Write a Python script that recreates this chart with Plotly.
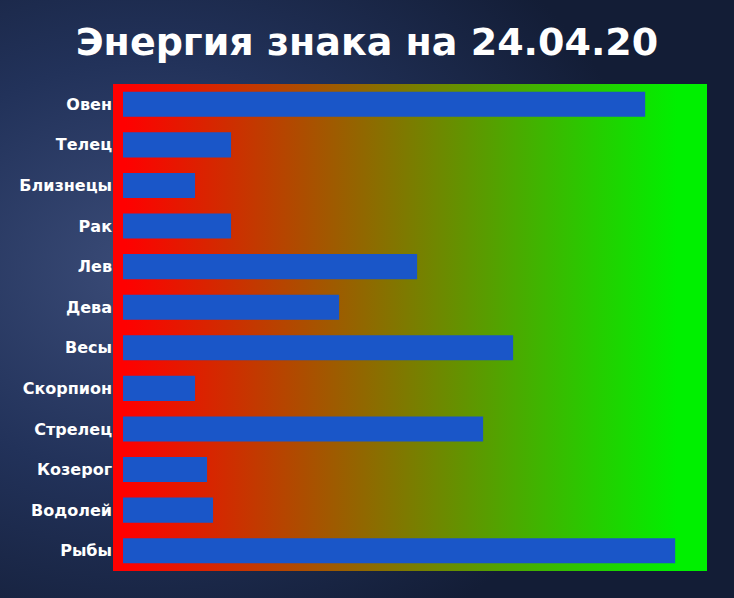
import base64
import plotly.graph_objects as go

# знаки зодиака сверху вниз
signs = ['Овен', 'Телец', 'Близнецы', 'Рак', 'Лев', 'Дева',
         'Весы', 'Скорпион', 'Стрелец', 'Козерог', 'Водолей', 'Рыбы']
energy = [87, 18, 12, 18, 49, 36, 65, 12, 60, 14, 15, 92]

title_text = 'Энергия знака на 24.04.20'


def svg_uri(svg):
    return 'data:image/svg+xml;base64,' + base64.b64encode(svg.encode('utf-8')).decode('ascii')


# фон "звёздное небо" (упрощённо)
sky_svg = (
    '<svg xmlns="http://www.w3.org/2000/svg" width="734" height="598">'
    '<defs><radialGradient id="g" cx="0.2" cy="0.45" r="0.7">'
    '<stop offset="0" stop-color="#3b4c78"/>'
    '<stop offset="0.5" stop-color="#22325a"/>'
    '<stop offset="1" stop-color="#131d36"/>'
    '</radialGradient></defs>'
    '<rect width="734" height="598" fill="url(#g)"/></svg>'
)

# градиент области графика: красный -> зелёный
grad_svg = (
    '<svg xmlns="http://www.w3.org/2000/svg" width="600" height="500" preserveAspectRatio="none">'
    '<defs><linearGradient id="r" x1="0" y1="0" x2="1" y2="0">'
    '<stop offset="0.02" stop-color="#ff0000"/>'
    '<stop offset="0.95" stop-color="#00f000"/>'
    '</linearGradient></defs>'
    '<rect width="600" height="500" fill="url(#r)"/></svg>'
)

fig = go.Figure()

fig.add_trace(go.Bar(
    x=energy,
    y=signs,
    orientation='h',
    width=0.62,
    marker=dict(color='#1a56c8', line=dict(width=0)),
    hoverinfo='x+y',
))

fig.add_layout_image(dict(
    source=svg_uri(sky_svg), xref='paper', yref='paper',
    x=-113 / 594, y=1 + 84 / 487, sizex=734 / 594, sizey=598 / 487,
    xanchor='left', yanchor='top', sizing='stretch', layer='below',
))
fig.add_layout_image(dict(
    source=svg_uri(grad_svg), xref='paper', yref='paper',
    x=0, y=1, sizex=1, sizey=1,
    xanchor='left', yanchor='top', sizing='stretch', layer='below',
))

fig.update_layout(
    width=734,
    height=598,
    margin=dict(l=113, r=27, t=84, b=27),
    paper_bgcolor='#1a2745',
    plot_bgcolor='rgba(0,0,0,0)',
    showlegend=False,
    title=dict(
        text=title_text,
        x=0.5, xanchor='center',
        y=0.93, yanchor='middle',
        font=dict(family='DejaVu Sans', size=38, color='white', weight='bold'),
    ),
    xaxis=dict(
        range=[-1.67, 97.3],
        visible=False,
        showgrid=False,
        zeroline=False,
    ),
    yaxis=dict(
        autorange='reversed',
        showgrid=False,
        ticks='',
        ticklabelstandoff=0,
        tickfont=dict(family='DejaVu Sans', size=16, color='white', weight='bold'),
    ),
)

# без отступов страницы, чтобы картинка легла ровно в окно
fig.write_html('out.html', config={'displayModeBar': False},
               post_script="document.body.style.margin='0';")
